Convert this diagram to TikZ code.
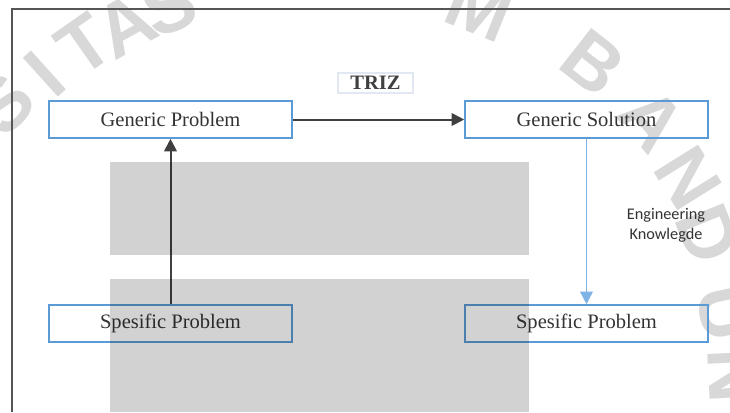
\documentclass[tikz,border=0pt]{standalone}
\usepackage{fontspec}
\setmainfont{Liberation Serif}
\newfontfamily\calibfont{Carlito}
\newfontfamily\wmfont{Liberation Sans}
\usetikzlibrary{arrows.meta}
\definecolor{boxblue}{HTML}{5B9BD5}
\definecolor{darkline}{HTML}{404040}
\definecolor{lightblue}{HTML}{7FB2E5}
\definecolor{wmgray}{HTML}{D8D8D8}
\definecolor{rectgray}{HTML}{D2D2D2}
\definecolor{framegray}{HTML}{555555}
\definecolor{textgray}{HTML}{333333}
\definecolor{trizborder}{HTML}{E2E8F2}
\begin{document}
\begin{tikzpicture}[x=0.75pt,y=-0.75pt,
  box/.style={draw=boxblue,line width=1.2pt,minimum width=182.25pt,minimum height=27.75pt,
    inner sep=0pt,text=textgray,font=\fontsize{15.4}{18}\selectfont},
  blkarrow/.style={draw=darkline,line width=1.5pt,-{Triangle[length=9.5pt,width=9.5pt]}},
  bluarrow/.style={draw=lightblue,line width=1.2pt,-{Triangle[length=9.5pt,width=9.5pt]}},
  wmletter/.style={text=wmgray,font=\wmfont\bfseries\fontsize{57}{57}\selectfont,inner sep=0pt}]
\useasboundingbox (0,0) rectangle (730,412);
\fill[white] (0,0) rectangle (730,412);
% watermark letters
\foreach \c/\px/\py/\r in {S/4/104/47, I/45/74/42, T/85/45/35, A/126/25/29, S/169/6/22,
  M/480/8/-22, B/593/63/-38, A/652/120/-50, N/688/178/-58, D/708/234/-68, U/726/313/-78, N/735/376/-87}
  \node[wmletter,rotate=\r] at (\px,\py) {\c};
% frame
\draw[framegray,line width=1.5pt] (12,412) -- (12,9) -- (730,9);
% boxes
\node[box] (gp) at (170.5,119.5) {Generic Problem};
\node[box] (gs) at (586.5,119.5) {Generic Solution};
\node[box] (sp1) at (170.5,323.5) {Spesific Problem};
\node[box] (sp2) at (586.5,323.5) {Spesific Problem};
\node[draw=trizborder,line width=0.8pt,minimum width=56.25pt,minimum height=15pt,inner sep=0pt,
  text=darkline,font=\bfseries\fontsize{15.4}{18}\selectfont] (triz) at (375.5,83) {TRIZ};
\node[align=center,text=textgray,font=\calibfont\fontsize{12.2}{15}\selectfont] (ek) at (666,225)
  {Engineering\\Knowlegde};
% connectors
\draw[blkarrow] (sp1.north) -- (gp.south);
\draw[blkarrow] (gp.east) -- (gs.west);
\draw[bluarrow] (gs.south) -- (sp2.north);
% gray panels
\begin{scope}[blend mode=multiply]
\fill[rectgray] (110,162) rectangle (529,255);
\fill[rectgray] (110,279) rectangle (529,412);
\end{scope}
\end{tikzpicture}
\end{document}
